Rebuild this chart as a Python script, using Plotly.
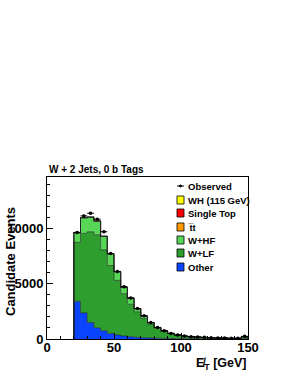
import numpy as np
import plotly.graph_objects as go

# ---- data ----
bin_edges = list(range(20, 155, 5))  # 20..150 GeV, 5 GeV bins
other = [3420, 2370, 1500, 1020, 750, 510, 360, 270, 210, 150, 120, 90, 70, 55, 45, 35, 30, 25, 20, 18, 15, 12, 10, 8, 8, 20]
wlf = [5350, 7210, 8230, 8440, 7330, 6160, 4960, 3840, 2940, 2310, 1740, 1260, 890, 665, 445, 300, 220, 170, 145, 120, 95, 70, 72, 48, 48, 170]
whf = [860, 1400, 1310, 1220, 1220, 1050, 770, 570, 550, 280, 220, 135, 80, 25, 15, 20, 15, 10, 10, 8, 6, 5, 5, 3, 3, 15]
ttbar = [15, 20, 20, 20, 20, 15, 15, 10, 10, 8, 6, 5, 4, 3, 2, 2, 1, 1, 1, 1, 1, 1, 1, 1, 1, 1]
stop = [25, 25, 20, 20, 15, 12, 10, 8, 6, 5, 4, 3, 2, 2, 1, 1, 1, 1, 1, 1, 1, 1, 1, 1, 1, 1]
wh = [1, 1, 1, 1, 1, 1, 1, 1, 1, 1, 1, 0, 0, 0, 0, 0, 0, 0, 0, 0, 0, 0, 0, 0, 0, 0]
observed = [9670, 11170, 11410, 10870, 9730, 7750, 6130, 4750, 3720, 2760, 2100, 1500, 1050, 750, 510, 360, 270, 210, 180, 150, 120, 90, 90, 60, 60, 240]

components = [
    ("Other", other, "#0a44ff"),
    ("W+LF", wlf, "#2e9f2e"),
    ("W+HF", whf, "#58d658"),
    ("t&#773;t", ttbar, "#ff9900"),
    ("Single Top", stop, "#ff0000"),
    ("WH (115 GeV)", wh, "#ffff00"),
]

edges = np.array(bin_edges, dtype=float)
centers = 0.5 * (edges[:-1] + edges[1:])

fig = go.Figure()
cum = np.zeros(len(centers))
for i, (name, vals, col) in enumerate(components):
    cum = cum + np.array(vals, dtype=float)
    xs = np.r_[edges[0], edges[:-1], edges[-1], edges[-1]]
    ys = np.r_[0, cum, cum[-1], 0]
    fig.add_trace(go.Scatter(
        x=xs, y=ys, mode="lines", line=dict(shape="hv", color="rgba(30,30,30,0.75)", width=0.8),
        fill="tozeroy" if i == 0 else "tonexty", fillcolor=col, name=name, showlegend=False,
        hoverinfo="skip"))

obs = np.array(observed, dtype=float)
fig.add_trace(go.Scatter(
    x=centers, y=obs, mode="markers",
    marker=dict(color="black", size=3.5),
    error_x=dict(type="constant", value=2.5, color="black", thickness=1, width=0),
    error_y=dict(type="data", array=np.sqrt(obs), color="black", thickness=1, width=0),
    showlegend=False, name="Observed"))

W, H = 291, 376
L, R, T, B = 47, 248, 177, 339   # plot frame in page pixels
def px(x):
    return (x - L) / (R - L)
def py(y):
    return (B - y) / (B - T)

bold = "Liberation Sans, Arial, Helvetica, sans-serif"
shapes = []
annotations = []

# legend (manual)
rows = [186, 200, 213, 227, 240, 253, 267]
leg_items = [("Observed", None)] + [(c[0], c[2]) for c in components[::-1]]
for (name, col), ry in zip(leg_items, rows):
    if col is None:
        shapes.append(dict(type="line", xref="paper", yref="paper", x0=px(177), x1=px(184),
                           y0=py(ry), y1=py(ry), line=dict(color="black", width=1)))
        shapes.append(dict(type="circle", xref="paper", yref="paper", x0=px(179.3), x1=px(181.7),
                           y0=py(ry - 1.2), y1=py(ry + 1.2), fillcolor="black", line=dict(color="black", width=0.5)))
    else:
        shapes.append(dict(type="rect", xref="paper", yref="paper", x0=px(177), x1=px(184),
                           y0=py(ry + 4), y1=py(ry - 4), fillcolor=col, line=dict(color="black", width=0.8)))
    annotations.append(dict(text="<b>%s</b>" % name, xref="paper", yref="paper", x=px(185.5), y=py(ry),
                            xanchor="left", yanchor="middle", showarrow=False,
                            font=dict(family=bold, size=9.5, color="black")))

annotations.append(dict(text="<b>W + 2 Jets, 0 b Tags</b>", xref="paper", yref="paper", x=px(47), y=py(169),
                        xanchor="left", yanchor="middle", showarrow=False,
                        font=dict(family=bold, size=10, color="black")))
annotations.append(dict(text="<b>Candidate Events</b>", xref="paper", yref="paper", x=px(10), y=py(262),
                        xanchor="center", yanchor="middle", textangle=-90, showarrow=False,
                        font=dict(family=bold, size=13, color="black")))
annotations.append(dict(text="<b>E\u0338<sub>T</sub> [GeV]</b>", xref="paper", yref="paper", x=px(249), y=py(364),
                        xanchor="right", yanchor="middle", showarrow=False,
                        font=dict(family=bold, size=12.5, color="black")))

fig.update_layout(
    width=W, height=H,
    margin=dict(l=L, r=W - R, t=T, b=H - B, pad=0, autoexpand=False),
    paper_bgcolor="white", plot_bgcolor="white",
    showlegend=False,
    shapes=shapes, annotations=annotations,
    font=dict(family=bold, color="black"),
)
fig.update_xaxes(range=[0, 150], tickvals=[0, 50, 100, 150], ticktext=["<b>0</b>", "<b>50</b>", "<b>100</b>", "<b>150</b>"],
                 ticks="inside", ticklen=6, tickcolor="black", showline=True, linecolor="black", linewidth=1,
                 mirror=True, showgrid=False, zeroline=False, tickfont=dict(size=13, family=bold), automargin=False,
                 ticklabelstandoff=-4,
                 minor=dict(dtick=10, ticks="inside", ticklen=3, tickcolor="black", showgrid=False))
fig.update_yaxes(range=[0, 14700], tickvals=[0, 5000, 10000], ticktext=["<b>0</b>", "<b>5000</b>", "<b>10000</b>"],
                 ticks="inside", ticklen=6, tickcolor="black", showline=True, linecolor="black", linewidth=1,
                 mirror=True, showgrid=False, zeroline=False, tickfont=dict(size=13, family=bold), automargin=False,
                 minor=dict(dtick=1000, ticks="inside", ticklen=3, tickcolor="black", showgrid=False))

fig.write_html("out.html", config={"displayModeBar": False},
               post_script="document.body.style.margin='0px';")
